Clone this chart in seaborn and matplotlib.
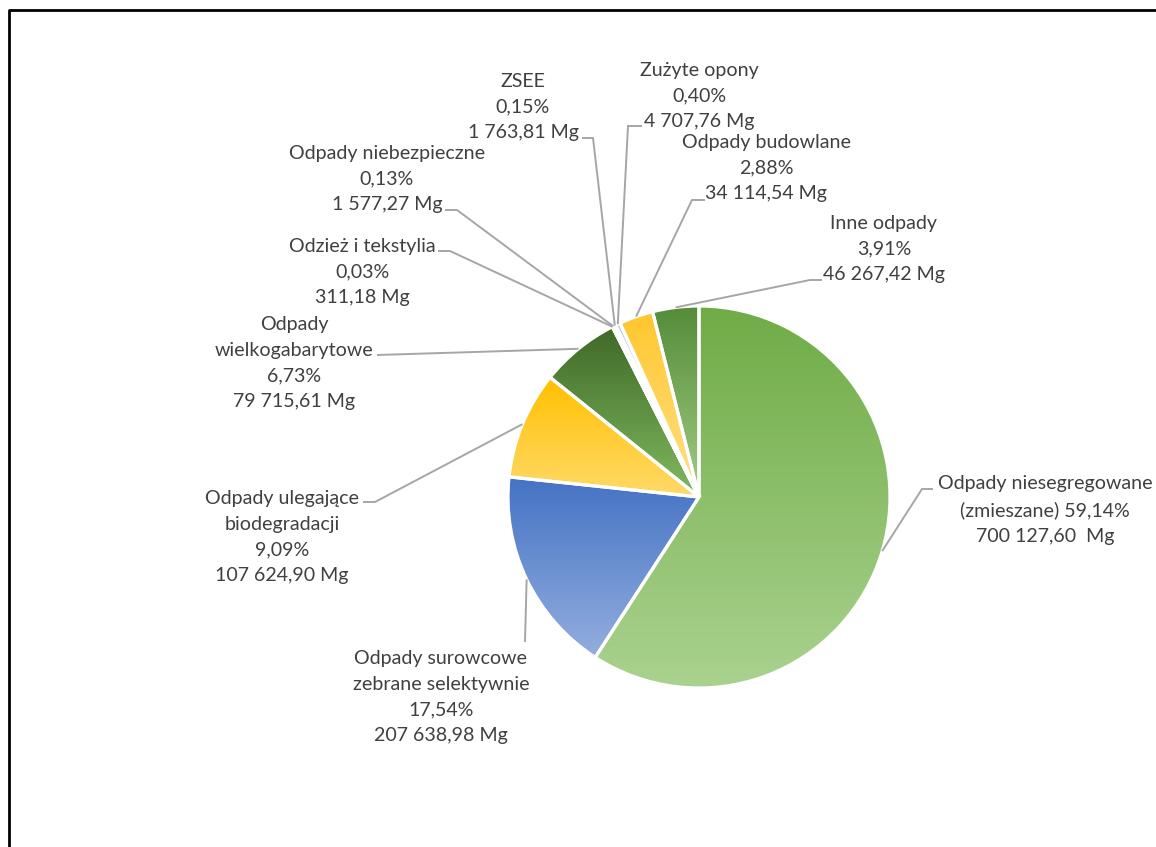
import numpy as np
import matplotlib
matplotlib.use("Agg")
import matplotlib.pyplot as plt
import seaborn as sns

# ---------------- data ----------------
categories = [
    "Odpady niesegregowane\n(zmieszane)",
    "Odpady surowcowe\nzebrane selektywnie",
    "Odpady ulegające\nbiodegradacji",
    "Odpady\nwielkogabarytowe",
    "Odzież i tekstylia",
    "Odpady niebezpieczne",
    "ZSEE",
    "Zużyte opony",
    "Odpady budowlane",
    "Inne odpady",
]
percent = [59.14, 17.54, 9.09, 6.73, 0.03, 0.13, 0.15, 0.40, 2.88, 3.91]
mass_mg = [700127.60, 207638.98, 107624.90, 79715.61, 311.18,
           1577.27, 1763.81, 4707.76, 34114.54, 46267.42]
name_sep = [" ", "\n", "\n", "\n", "\n", "\n", "\n", "\n", "\n", "\n"]
unit_sep = ["  ", " ", " ", " ", " ", " ", " ", " ", " ", " "]

# ---------------- style ----------------
# gradient (top colour, bottom colour) for each slice
grad_colors = [
    ("#6FAC46", "#AAD28F"),
    ("#4472C4", "#93AEDE"),
    ("#FFC000", "#FFDA6A"),
    ("#3F6828", "#80BA5E"),
    ("#8FAADC", "#B4C7E7"),
    ("#A5A5A5", "#C9C9C9"),
    ("#5B9BD5", "#9DC3E6"),
    ("#B4C7E7", "#DAE3F3"),
    ("#FFC72C", "#FFE08C"),
    ("#548C38", "#A2CD85"),
]

W, H = 1156, 847
CENTER = (699, H - 497)
RADIUS = 191

# label layout (image pixel coords): text centre, leader points from label side
label_pos = [(1045, 510), (441, 697), (282, 537), (294, 363), (362, 272),
             (387, 179), (523, 107), (699, 96), (766, 168), (884, 249)]
leader_pts = [
    [(933, 489), (922, 489)],
    [(525, 642)],
    [(363, 502), (375, 502)],
    [(377, 355)],
    [(438, 251), (450, 251)],
    [(445, 210), (457, 210)],
    [(582, 138), (593, 138)],
    [(642, 126), (628, 126)],
    [(705, 200), (692, 200)],
    [(822, 280), (810, 280)],
]

sns.set_theme(style="white")
plt.rcParams["font.family"] = ["Lato", "DejaVu Sans"]
TEXT_COLOR = "#404040"
LINE_COLOR = "#A6A6A6"


def fmt_num(v):
    return f"{v:,.2f}".replace(",", " ").replace(".", ",")


def fmt_pct(v):
    return f"{v:.2f}".replace(".", ",") + "%"


fig = plt.figure(figsize=(W / 100, H / 100), dpi=100)
ax = fig.add_axes([0, 0, 1, 1])

wedges, _ = ax.pie(
    mass_mg,
    startangle=90,
    counterclock=False,
    center=CENTER,
    radius=RADIUS,
    wedgeprops=dict(edgecolor="white", linewidth=2.3),
)

# gradient fills clipped to each wedge
for w, (c_top, c_bot) in zip(wedges, grad_colors):
    ext = w.get_path().get_extents()
    grad = np.array(sns.blend_palette([c_top, c_bot], 256))[:, :3]
    img = ax.imshow(
        grad[:, None, :],
        extent=(ext.x0, ext.x1, ext.y0, ext.y1),
        origin="upper",
        aspect="auto",
        interpolation="bilinear",
        zorder=1,
    )
    img.set_clip_path(w)
    w.set_facecolor("none")
    w.set_zorder(3)

# labels and leader lines
for i, w in enumerate(wedges):
    text = (categories[i] + name_sep[i] + fmt_pct(percent[i]) + "\n"
            + fmt_num(mass_mg[i]) + unit_sep[i] + "Mg")
    tx, ty = label_pos[i]
    ax.text(tx, H - ty, text, ha="center", va="center", ma="center",
            fontsize=14.1, color=TEXT_COLOR, linespacing=1.6, zorder=5)
    mid = np.deg2rad((w.theta1 + w.theta2) / 2)
    ex = w.center[0] + w.r * np.cos(mid)
    ey = w.center[1] + w.r * np.sin(mid)
    xs = [p[0] for p in leader_pts[i]] + [ex]
    ys = [H - p[1] for p in leader_pts[i]] + [ey]
    ax.plot(xs, ys, color=LINE_COLOR, lw=1.4, zorder=4,
            solid_capstyle="butt", solid_joinstyle="miter")

# outer border (chart area frame, cut at right / bottom)
ax.plot([9, 9, W + 20], [-20, H - 10, H - 10], color="black", lw=2.0,
        zorder=6, clip_on=False)

ax.set_xlim(0, W)
ax.set_ylim(0, H)
ax.set_aspect("auto")
ax.set_axis_off()

fig.savefig("out.png", dpi=100, facecolor="white")
